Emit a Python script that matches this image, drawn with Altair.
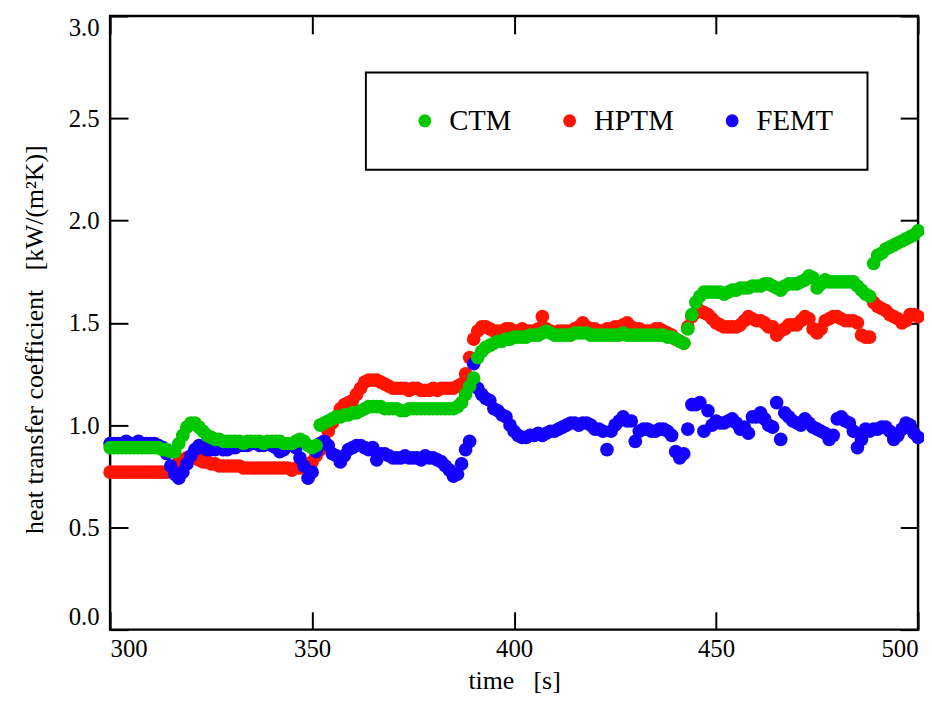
import altair as alt
import pandas as pd

times = list(range(300, 501))

ctm = [0.89, 0.89, 0.89, 0.89, 0.89, 0.89, 0.89, 0.89, 0.89, 0.89,
       0.89, 0.89, 0.89, 0.88, 0.88, 0.87, 0.87, 0.91, 0.95, 0.99,
       1.01, 1.01, 0.99, 0.97, 0.95, 0.94, 0.93, 0.93, 0.92, 0.92,
       0.92, 0.92, 0.92, 0.91, 0.92, 0.92, 0.92, 0.92, 0.91, 0.92,
       0.92, 0.92, 0.92, 0.91, 0.91, 0.91, 0.92, 0.93, 0.92, 0.90,
       0.89, 0.90, 1.00, 1.01, 1.02, 1.03, 1.04, 1.04, 1.05, 1.05,
       1.06, 1.06, 1.07, 1.08, 1.09, 1.09, 1.09, 1.09, 1.08, 1.08,
       1.08, 1.08, 1.07, 1.07, 1.08, 1.08, 1.08, 1.08, 1.08, 1.08,
       1.08, 1.08, 1.08, 1.08, 1.08, 1.08, 1.09, 1.11, 1.15, 1.19,
       1.23, 1.33, 1.36, 1.38, 1.39, 1.40, 1.41, 1.41, 1.42, 1.42,
       1.43, 1.43, 1.43, 1.43, 1.44, 1.44, 1.44, 1.45, 1.46, 1.45,
       1.44, 1.44, 1.44, 1.44, 1.44, 1.45, 1.45, 1.45, 1.45, 1.44,
       1.44, 1.44, 1.44, 1.44, 1.44, 1.44, 1.44, 1.45, 1.44, 1.44,
       1.44, 1.44, 1.44, 1.44, 1.44, 1.44, 1.44, 1.44, 1.43, 1.43,
       1.42, 1.41, 1.40, 1.47, 1.54, 1.60, 1.63, 1.65, 1.65, 1.65,
       1.65, 1.65, 1.64, 1.65, 1.66, 1.66, 1.67, 1.67, 1.67, 1.68,
       1.68, 1.68, 1.69, 1.69, 1.68, 1.67, 1.66, 1.68, 1.69, 1.69,
       1.69, 1.70, 1.71, 1.73, 1.72, 1.67, 1.69, 1.71, 1.70, 1.70,
       1.70, 1.70, 1.70, 1.70, 1.70, 1.68, 1.66, 1.64, 1.63, 1.79,
       1.83, 1.84, 1.86, 1.87, 1.88, 1.89, 1.90, 1.91, 1.92, 1.93,
       1.95]

hptm = [0.77, 0.77, 0.77, 0.77, 0.77, 0.77, 0.77, 0.77, 0.77, 0.77,
        0.77, 0.77, 0.77, 0.77, 0.77, 0.78, 0.80, 0.82, 0.83, 0.84,
        0.84, 0.84, 0.83, 0.82, 0.82, 0.81, 0.81, 0.80, 0.80, 0.80,
        0.80, 0.80, 0.80, 0.79, 0.79, 0.79, 0.79, 0.79, 0.79, 0.79,
        0.79, 0.79, 0.79, 0.79, 0.79, 0.78, 0.79, 0.79, 0.79, 0.80,
        0.82, 0.85, 0.88, 0.92, 0.97, 1.01, 1.04, 1.08, 1.10, 1.11,
        1.12, 1.15, 1.18, 1.21, 1.22, 1.22, 1.22, 1.21, 1.20, 1.19,
        1.18, 1.18, 1.18, 1.18, 1.17, 1.18, 1.18, 1.17, 1.17, 1.17,
        1.18, 1.17, 1.18, 1.18, 1.18, 1.18, 1.19, 1.20, 1.25, 1.33,
        1.42, 1.46, 1.48, 1.48, 1.47, 1.46, 1.46, 1.46, 1.47, 1.47,
        1.46, 1.46, 1.47, 1.46, 1.46, 1.46, 1.47, 1.53, 1.47, 1.46,
        1.45, 1.46, 1.46, 1.46, 1.46, 1.47, 1.48, 1.50, 1.48, 1.47,
        1.47, 1.46, 1.46, 1.47, 1.47, 1.48, 1.48, 1.49, 1.50, 1.48,
        1.47, 1.47, 1.46, 1.46, 1.46, 1.47, 1.47, 1.46, 1.45, 1.44,
        1.42, 1.41, 1.40, 1.48, 1.53, 1.55, 1.56, 1.55, 1.54, 1.52,
        1.50, 1.49, 1.48, 1.48, 1.48, 1.48, 1.49, 1.51, 1.53, 1.52,
        1.51, 1.51, 1.50, 1.48, 1.48, 1.44, 1.46, 1.47, 1.49, 1.49,
        1.49, 1.51, 1.53, 1.52, 1.47, 1.45, 1.47, 1.51, 1.52, 1.53,
        1.53, 1.52, 1.51, 1.51, 1.51, 1.50, 1.44, 1.43, 1.43, 1.60,
        1.58, 1.57, 1.56, 1.54, 1.53, 1.52, 1.50, 1.51, 1.54, 1.54,
        1.53]

femt = [0.91, 0.91, 0.91, 0.91, 0.92, 0.91, 0.91, 0.92, 0.91, 0.91,
        0.91, 0.91, 0.90, 0.89, 0.86, 0.80, 0.76, 0.74, 0.77, 0.81,
        0.85, 0.88, 0.90, 0.89, 0.88, 0.88, 0.88, 0.89, 0.88, 0.88,
        0.89, 0.89, 0.90, 0.90, 0.90, 0.91, 0.91, 0.90, 0.90, 0.91,
        0.90, 0.89, 0.87, 0.88, 0.90, 0.90, 0.89, 0.84, 0.80, 0.74,
        0.77, 0.87, 0.91, 0.92, 0.90, 0.86, 0.85, 0.82, 0.85, 0.88,
        0.89, 0.90, 0.90, 0.89, 0.88, 0.89, 0.83, 0.86, 0.86, 0.85,
        0.84, 0.84, 0.84, 0.85, 0.84, 0.84, 0.84, 0.83, 0.85, 0.84,
        0.84, 0.83, 0.82, 0.80, 0.78, 0.75, 0.76, 0.81, 0.88, 0.92,
        1.30, 1.18, 1.15, 1.13, 1.12, 1.08, 1.07, 1.05, 1.04, 1.00,
        0.97, 0.95, 0.94, 0.94, 0.95, 0.95, 0.96, 0.95, 0.96, 0.97,
        0.97, 0.98, 0.99, 1.00, 1.01, 1.01, 1.00, 1.01, 1.01, 1.00,
        0.98, 0.98, 0.97, 0.88, 0.97, 1.00, 1.02, 1.04, 1.02, 1.02,
        0.92, 0.97, 0.98, 0.98, 0.97, 0.97, 0.98, 0.98, 0.97, 0.95,
        0.87, 0.84, 0.86, 0.98, 1.10, 1.10, 1.11, 0.97, 1.07, 1.00,
        1.02, 1.01, 1.01, 1.02, 1.03, 1.01, 0.98, 0.99, 0.96, 1.04,
        1.04, 1.06, 1.03, 1.00, 0.99, 1.11, 0.93, 1.06, 1.04, 1.02,
        1.01, 1.00, 1.03, 1.01, 0.99, 0.98, 0.97, 0.96, 0.93, 0.95,
        1.03, 1.04, 1.02, 1.01, 0.97, 0.89, 0.93, 0.98, 0.97, 0.98,
        0.98, 0.99, 0.99, 0.97, 0.93, 0.95, 0.98, 1.01, 1.00, 0.96,
        0.94]

series_names = ["CTM", "HPTM", "FEMT"]
series_colors = ["#00c800", "#ff1400", "#1400ff"]
x_ticks = [300, 350, 400, 450, 500]
y_ticks = [0.0, 0.5, 1.0, 1.5, 2.0, 2.5, 3.0]

# draw order: red, blue, then green on top
rows = []
for name, vals in [("HPTM", hptm), ("FEMT", femt), ("CTM", ctm)]:
    for t, v in zip(times, vals):
        rows.append({"time": t, "value": v, "series": name})
df = pd.DataFrame(rows)

FONT = "Times New Roman, Liberation Serif, serif"

xscale = alt.Scale(domain=[300, 500], nice=False, zero=False)
yscale = alt.Scale(domain=[0, 3], nice=False, zero=False)

common_axis = dict(domain=False, grid=False, tickSize=18, tickWidth=2,
                   tickColor="black", offset=-18,
                   labelFont=FONT, labelFontSize=25, labelColor="black",
                   titleFont=FONT, titleFontSize=26, titleFontWeight="normal",
                   titleColor="black")

points = alt.Chart(df).mark_point(filled=True, size=190, opacity=1, strokeWidth=0).encode(
    x=alt.X("time:Q", scale=xscale,
            axis=alt.Axis(values=x_ticks, format="d", orient="bottom",
                          labelFlush=True, labelPadding=7,
                          title="time\u00a0\u00a0\u00a0[s]", titlePadding=6,
                          **common_axis)),
    y=alt.Y("value:Q", scale=yscale,
            axis=alt.Axis(values=y_ticks, format=".1f", orient="left",
                          labelFlush=True, labelPadding=11,
                          title="heat transfer coefficient\u00a0\u00a0\u00a0[kW/(m\u00b2K)]",
                          titlePadding=21, titleY=326, **common_axis)),
    color=alt.Color("series:N",
                    scale=alt.Scale(domain=series_names, range=series_colors),
                    legend=alt.Legend(title=None, orient="none", direction="horizontal",
                                      legendX=258, legendY=57,
                                      strokeColor="black", padding=34,
                                      symbolOffset=11, symbolSize=170,
                                      symbolType="circle", symbolStrokeWidth=0,
                                      labelFontSize=29, labelFont=FONT,
                                      labelColor="black", labelOffset=10,
                                      columnPadding=33)),
)

frame = alt.Chart(df).mark_point(opacity=0).encode(
    x=alt.X("time:Q", scale=xscale,
            axis=alt.Axis(values=x_ticks, orient="top", labels=False, title=None,
                          **common_axis)),
    y=alt.Y("value:Q", scale=yscale,
            axis=alt.Axis(values=y_ticks, orient="right", labels=False, title=None,
                          **common_axis)),
)

chart = alt.layer(points, frame).resolve_axis(
    x="independent", y="independent"
).properties(
    width=815, height=619,
    autosize=alt.AutoSizeParams(type="none"),
    padding={"left": 103, "top": 5, "right": 6, "bottom": 77},
).configure_view(
    stroke="black", strokeWidth=2.5
).configure_legend(
    strokeWidth=2
)

chart.save("out.html", embed_options={"renderer": "svg", "actions": False})
